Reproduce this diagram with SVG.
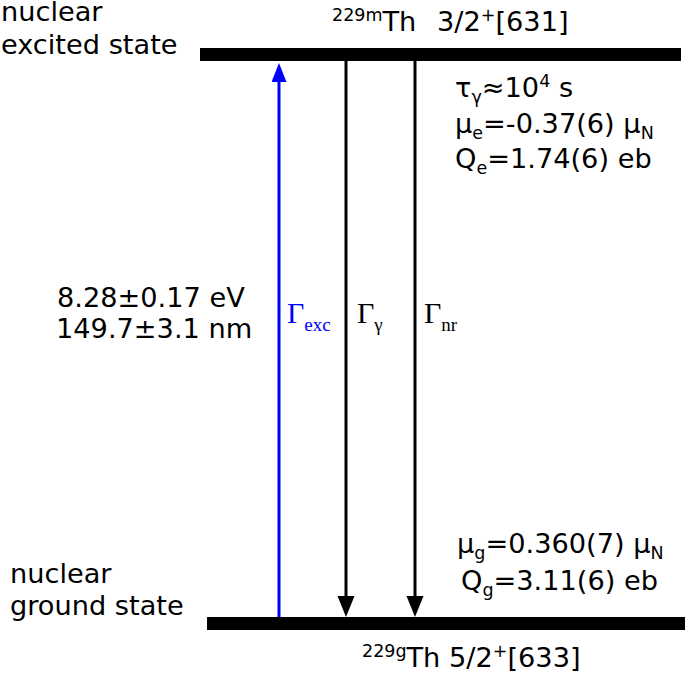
<svg xmlns="http://www.w3.org/2000/svg" width="685" height="673" viewBox="0 0 685 673">
<style>
.t{font-family:"DejaVu Sans",Verdana,sans-serif;font-size:27.2px;fill:#000}
.sup{font-size:17.5px}
.sub{font-size:17.5px}
.g{font-family:"Liberation Serif","Times New Roman",serif;font-size:30px}
.gs{font-size:19px}
.bar{fill:#000}
.arr{stroke:#000;stroke-width:3;fill:none}
.arrb{stroke:#0000ff;stroke-width:3;fill:none}
</style>
<defs>
<marker id="hk" markerUnits="userSpaceOnUse" markerWidth="22" markerHeight="18" refX="10" refY="8.5" orient="auto">
<path d="M0,0 L21,8.5 L0,17 z" fill="#000"/>
</marker>
<marker id="hb" markerUnits="userSpaceOnUse" markerWidth="22" markerHeight="16" refX="10" refY="7.5" orient="auto">
<path d="M0,0 L19,7.5 L0,15 z" fill="#0000ff"/>
</marker>
</defs>

<g id="excited">
<rect class="bar" x="200" y="48" width="481" height="13"/>
<text class="t" x="1" y="21">nuclear</text>
<text class="t" x="1" y="54">excited state</text>
<text class="t" x="332" y="31"><tspan class="sup" dy="-10">229m</tspan><tspan dy="10">Th</tspan><tspan x="437">3/2</tspan><tspan class="sup" dy="-10">+</tspan><tspan dy="10">[631]</tspan></text>
<text class="t" x="455" y="97">τ<tspan class="sub" dy="6">γ</tspan><tspan dy="-6">≈10</tspan><tspan class="sup" dy="-10">4</tspan><tspan dy="10"> s</tspan></text>
<text class="t" x="455" y="133">μ<tspan class="sub" dy="6">e</tspan><tspan dy="-6">=-0.37(6) μ</tspan><tspan class="sub" dy="6">N</tspan></text>
<text class="t" x="455" y="168">Q<tspan class="sub" dy="6">e</tspan><tspan dy="-6">=1.74(6) eb</tspan></text>
</g>

<g id="ground">
<rect class="bar" x="207" y="617" width="478" height="13"/>
<text class="t" x="10" y="583">nuclear</text>
<text class="t" x="10" y="615">ground state</text>
<text class="t" x="362" y="667"><tspan class="sup" dy="-10">229g</tspan><tspan dy="10">Th 5/2</tspan><tspan class="sup" dy="-10">+</tspan><tspan dy="10">[633]</tspan></text>
<text class="t" x="457" y="553">μ<tspan class="sub" dy="6">g</tspan><tspan dy="-6">=0.360(7) μ</tspan><tspan class="sub" dy="6">N</tspan></text>
<text class="t" x="461" y="590">Q<tspan class="sub" dy="6">g</tspan><tspan dy="-6">=3.11(6) eb</tspan></text>
</g>

<g id="energy">
<text class="t" x="57" y="307">8.28±0.17 eV</text>
<text class="t" x="56" y="338">149.7±3.1 nm</text>
</g>

<g id="connectors">
<line class="arrb" x1="279" y1="617" x2="279" y2="72" marker-end="url(#hb)"/>
<line class="arr" x1="346" y1="61" x2="346" y2="606" marker-end="url(#hk)"/>
<line class="arr" x1="415" y1="61" x2="415" y2="606" marker-end="url(#hk)"/>
<text class="g" x="287" y="323" fill="#0000ff">Γ<tspan class="gs" dy="8">exc</tspan></text>
<text class="g" x="357" y="323">Γ<tspan class="gs" dy="8">γ</tspan></text>
<text class="g" x="424" y="323">Γ<tspan class="gs" dy="8">nr</tspan></text>
</g>
</svg>
